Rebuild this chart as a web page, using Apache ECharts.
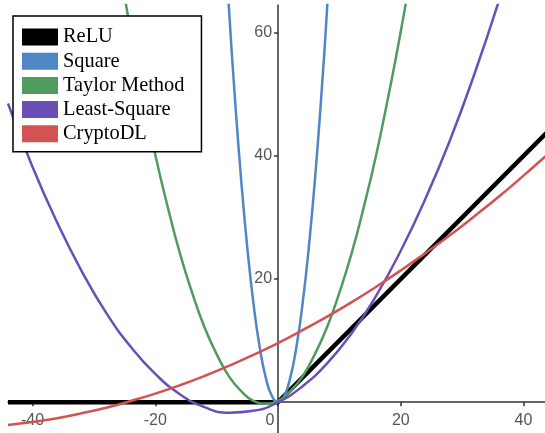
<!DOCTYPE html>
<html>
<head>
    <meta charset="UTF-8">
    <title>ReLU approximations</title>
    <script src="https://cdn.jsdelivr.net/npm/echarts@6.0.0/dist/echarts.min.js"></script>
    <style>
        html, body { margin: 0; padding: 0; background: #fff; }
    </style>
</head>
<body>

<div id="main" style="width: 545px;height:433px"></div>

<script type="text/javascript">
    // series names (legend order)
    var names = ['ReLU', 'Square', 'Taylor Method', 'Least-Square', 'CryptoDL'];

    // ReLU
    var reluX = [-44, 0, 44];
    var reluY = [0, 0, 44];

    // Square
    var squareX = [-9, -8, -7, -6, -5, -4, -3, -2, -1, 0, 1, 2, 3, 4, 5, 6, 7, 8, 9];
    var squareY = [81, 64, 49, 36, 25, 16, 9, 4, 1, 0, 1, 4, 9, 16, 25, 36, 49, 64, 81];

    // Taylor Method
    var taylorX = [-28, -26, -24, -22, -20, -18, -16, -14, -12, -10, -8, -6, -4, -2, 0, 2, 4, 6, 8, 10, 12, 14, 16, 18, 20, 22, 24];
    var taylorY = [84.2, 71.8, 60.2, 49.8, 40.2, 31.8, 24.2, 17.8, 12.2, 7.8, 4.2, 1.8, 0.2, -0.2, 0.2, 1.8, 4.2, 7.8, 12.2, 17.8, 24.2, 31.8, 40.2, 49.8, 60.2, 71.8, 84.2];

    // Least-Square
    var lsX = [-44, -40, -36, -32, -28, -24, -20, -16, -12, -8, -4, 0, 4, 8, 12, 16, 20, 24, 28, 32, 36, 40];
    var lsY = [48.5, 38.2, 29.2, 21.3, 14.5, 9.0, 4.6, 1.3, -0.8, -1.7, -1.4, 0, 2.6, 6.3, 11.2, 17.3, 24.6, 33.0, 42.5, 53.3, 65.2, 78.2];

    // CryptoDL
    var cdlX = [-44, -40, -36, -32, -28, -24, -20, -16, -12, -8, -4, 0, 4, 8, 12, 16, 20, 24, 28, 32, 36, 40, 44];
    var cdlY = [-3.7, -3.2, -2.6, -1.8, -0.9, 0.2, 1.4, 2.75, 4.25, 5.9, 7.7, 9.6, 11.7, 13.9, 16.25, 18.75, 21.4, 24.2, 27.1, 30.2, 33.4, 36.8, 40.3];

    var colors = ['#000000', '#4e86c6', '#4f9c5e', '#6a4fb6', '#d15352'];

    // axis ranges
    var xMin = -44, xMax = 43.5;
    var yMin = -5, yMax = 64.5;

    function pairs(xs, ys) {
        var out = [];
        for (var i = 0; i < xs.length; i++) {
            out.push([xs[i], ys[i]]);
        }
        return out;
    }

    var W = 545, H = 433;
    var gLeft = 8, gRight = 0, gTop = 5, gBottom = 0;
    // put the axes through the origin (x = 0, y = 0)
    var yAxisOffset = -((0 - xMin) / (xMax - xMin)) * (W - gLeft - gRight);
    var xAxisOffset = -((0 - yMin) / (yMax - yMin)) * (H - gTop - gBottom);

    var labelFont = {
        color: '#555',
        fontFamily: '"Liberation Sans", Arial, sans-serif',
        fontSize: 16
    };

    function makeLine(i, xs, ys, width, smooth) {
        return {
            name: names[i],
            type: 'line',
            data: pairs(xs, ys),
            smooth: smooth,
            showSymbol: false,
            clip: true,
            color: colors[i],
            itemStyle: { color: colors[i] },
            lineStyle: { color: colors[i], width: width },
            z: i === 0 ? 2 : 3
        };
    }

    var myChart = echarts.init(document.getElementById('main'));
    var option = {
        animation: false,
        grid: {
            left: gLeft,
            right: gRight,
            top: gTop,
            bottom: gBottom,
            containLabel: false,
            outerBoundsMode: 'none'
        },
        legend: {
            orient: 'vertical',
            left: 13,
            top: 16,
            padding: [11, 17, 8, 9],
            backgroundColor: '#fff',
            borderColor: '#000',
            borderWidth: 1.5,
            borderRadius: 0,
            icon: 'rect',
            itemWidth: 36,
            itemHeight: 17,
            itemGap: 4.2,
            itemTextGap: 9,
            itemStyle: { borderWidth: 0 },
            textStyle: {
                color: '#000',
                fontFamily: '"Liberation Serif", "Times New Roman", serif',
                fontSize: 20.4
            },
            data: names
        },
        xAxis: {
            type: 'value',
            min: xMin,
            max: xMax,
            splitNumber: 5,
            position: 'bottom',
            offset: xAxisOffset,
            splitLine: { show: false },
            axisLine: { onZero: false, lineStyle: { color: '#333', width: 1.5 } },
            axisTick: { length: 4, lineStyle: { color: '#333', width: 1.5 } },
            axisLabel: {
                margin: 10,
                showMinLabel: false,
                showMaxLabel: false,
                color: labelFont.color,
                fontFamily: labelFont.fontFamily,
                fontSize: labelFont.fontSize,
                formatter: function (v) {
                    if (v % 20 !== 0) return '';
                    if (v === 0) return '{z|0}';
                    return String(v);
                },
                rich: {
                    z: {
                        color: labelFont.color,
                        fontFamily: labelFont.fontFamily,
                        fontSize: labelFont.fontSize,
                        padding: [0, 16, 0, 0]
                    }
                }
            }
        },
        yAxis: {
            type: 'value',
            min: yMin,
            max: yMax,
            splitNumber: 4,
            position: 'left',
            offset: yAxisOffset,
            splitLine: { show: false },
            axisLine: { onZero: false, lineStyle: { color: '#333', width: 1.5 } },
            axisTick: { length: 4, lineStyle: { color: '#333', width: 1.5 } },
            axisLabel: {
                margin: 6,
                showMinLabel: false,
                showMaxLabel: false,
                color: labelFont.color,
                fontFamily: labelFont.fontFamily,
                fontSize: labelFont.fontSize,
                formatter: function (v) {
                    if (v === 0 || v % 20 !== 0) return '';
                    return String(v);
                }
            }
        },
        series: [
            makeLine(0, reluX, reluY, 4.5, false),
            makeLine(1, squareX, squareY, 2.5, true),
            makeLine(2, taylorX, taylorY, 2.5, true),
            makeLine(3, lsX, lsY, 2.5, true),
            makeLine(4, cdlX, cdlY, 2.5, true)
        ]
    };
    myChart.setOption(option);
</script>
</body>
</html>
